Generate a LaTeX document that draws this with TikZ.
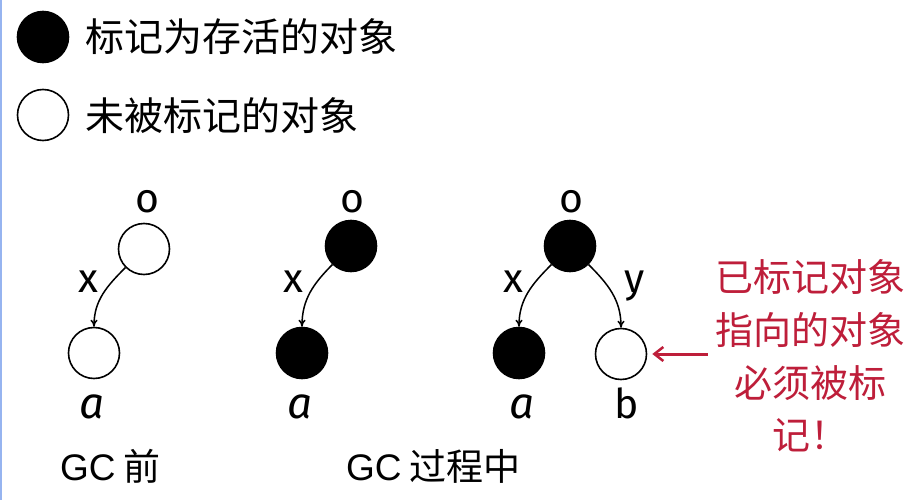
\documentclass[tikz,border=0pt]{standalone}
\usepackage{fontspec}
\setmainfont{Noto Sans CJK SC}
\newfontfamily\gcfont{Liberation Sans}
\newfontfamily\lblfont{Fira Sans}
\usetikzlibrary{arrows.meta}
\definecolor{notered}{RGB}{190,30,58}
\definecolor{edgeblue}{RGB}{150,180,240}
\begin{document}
\begin{tikzpicture}[x=1pt,y=-1pt,
  obj/.style={circle,draw=black,line width=1.6pt,minimum size=51pt,inner sep=0pt},
  live/.style={obj,fill=black},
  dead/.style={obj,fill=white},
  lbl/.style={font=\lblfont\fontsize{41}{41}\selectfont,anchor=base,inner sep=0pt},
  albl/.style={font=\lblfont\itshape\fontsize{44}{44}\selectfont,anchor=base,inner sep=0pt},
  legtext/.style={font=\fontsize{39}{39}\selectfont,anchor=base west,inner sep=0pt},
  caption/.style={font=\fontsize{37}{37}\selectfont,anchor=base west,inner sep=0pt},
  note/.style={text=notered,align=center,font=\fontsize{38}{52.7}\selectfont,inner sep=0pt},
  ref/.style={line width=1.5pt,-{To[length=7pt,width=7pt]}},
  notearrow/.style={draw=notered,line width=3pt,-{Straight Barb[length=9pt,width=14pt,line width=2.5pt]}}
]
\useasboundingbox (0,0) rectangle (912,500);
\fill[white] (0,0) rectangle (912,500);
\draw[edgeblue,line width=2pt] (1,0) -- (1,500);

% legend
\node[live] (legL) at (43,37) {};
\node[legtext] (legLt) at (85,52) {标记为存活的对象};
\node[dead] (legD) at (43,115) {};
\node[legtext] (legDt) at (85,130) {未被标记的对象};

% tree 1: before GC
\node[dead] (o1) at (144,249) {};
\node[dead] (a1) at (94,353) {};
\node[lbl] (o1l) at (147,212) {o};
\node[lbl] (x1l) at (88,292) {x};
\node[albl] (a1l) at (92,418) {a};
\draw[ref] (o1) to[out=225,in=90] (a1);

% tree 2: during GC
\node[live] (o2) at (351,246) {};
\node[live] (a2) at (302,353) {};
\node[lbl] (o2l) at (352,212) {o};
\node[lbl] (x2l) at (293,292) {x};
\node[albl] (a2l) at (300,418) {a};
\draw[ref] (o2) to[out=225,in=90] (a2);

% tree 3: during GC, new reference
\node[live] (o3) at (570,246) {};
\node[live] (a3) at (519,353) {};
\node[dead] (b3) at (621,354) {};
\node[lbl] (o3l) at (571,212) {o};
\node[lbl] (x3l) at (513,292) {x};
\node[lbl] (y3l) at (635,292) {y};
\node[albl] (a3l) at (522,418) {a};
\node[lbl] (b3l) at (627,418) {b};
\draw[ref] (o3) to[out=225,in=90] (a3);
\draw[ref] (o3) to[out=-45,in=90] (b3);

% captions
\node[caption] (cap1) at (60,480) {{\gcfont GC} 前};
\node[caption] (cap2) at (346,480) {{\gcfont GC} 过程中};

% note
\node[note] (note) at (810,356) {已标记对象\\指向的对象\\必须被标\\记！};
\draw[notearrow] ([xshift=-7pt]note.west |- b3.east) -- ([xshift=5pt]b3.east);
\end{tikzpicture}
\end{document}
